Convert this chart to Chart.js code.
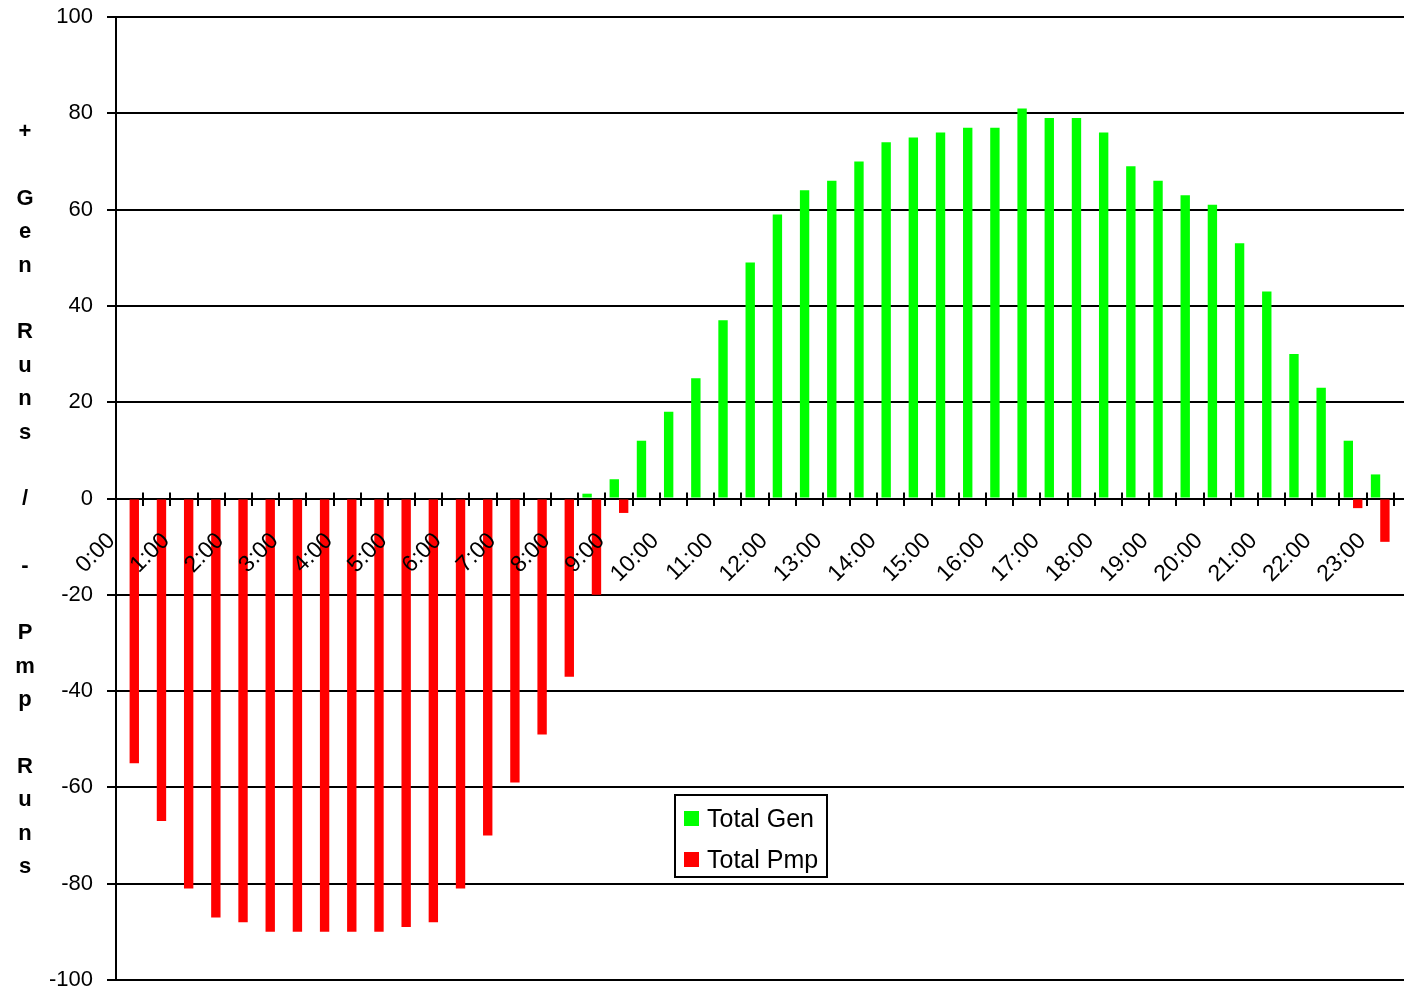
<!DOCTYPE html>
<html>
<head>
<meta charset="utf-8">
<script src="https://cdn.jsdelivr.net/npm/chart.js@4.4.0/dist/chart.umd.min.js"></script>
<style>
  html, body { margin: 0; padding: 0; background: #fff; overflow: hidden; }
  #wrap { position: relative; width: 1404px; height: 991px; overflow: hidden; }
  #chart { position: absolute; left: 0; top: 0; }
  #ytitle { position: absolute; left: 0; top: 114px; width: 50px; text-align: center; white-space: pre;
    font: bold 22px "Liberation Sans", Arial, sans-serif; line-height: 33.4px; color: #000; }
  #legend { position: absolute; left: 674px; top: 794px; width: 150px; height: 80px; border: 2px solid #000;
    background: #fff; font: 25px "Liberation Sans", Arial, sans-serif; color: #000; }
  #legend .item { display: flex; align-items: center; height: 41px; padding-left: 8px; position: relative; top: 2px; }
  #legend .swatch { width: 15px; height: 15px; margin-right: 8px; }
</style>
</head>
<body>
<div id="wrap">
  <canvas id="chart" width="1421" height="1010"></canvas>
  <div id="ytitle"></div>
  <div id="legend"></div>
</div>
<script>
// half-hourly categories, only the full hours get a label
const times = [
  '0:00', '0:30', '1:00', '1:30', '2:00', '2:30', '3:00', '3:30', '4:00', '4:30', '5:00', '5:30',
  '6:00', '6:30', '7:00', '7:30', '8:00', '8:30', '9:00', '9:30', '10:00', '10:30', '11:00', '11:30',
  '12:00', '12:30', '13:00', '13:30', '14:00', '14:30', '15:00', '15:30', '16:00', '16:30', '17:00', '17:30',
  '18:00', '18:30', '19:00', '19:30', '20:00', '20:30', '21:00', '21:30', '22:00', '22:30', '23:00', '23:30'
];

const totalGen = [
  0, 0, 0, 0, 0, 0, 0, 0, 0, 0, 0, 0, 0, 0, 0, 0, 0, 1, 4, 12, 18, 25, 37, 49,
  59, 64, 66, 70, 74, 75, 76, 77, 77, 81, 79, 79, 76, 69, 66, 63, 61, 53, 43, 30, 23, 12, 5, 0
];

const totalPmp = [
  -55, -67, -81, -87, -88, -90, -90, -90, -90, -90, -89, -88, -81, -70, -59, -49, -37, -20, -3, 0, 0, 0, 0, 0,
  0, 0, 0, 0, 0, 0, 0, 0, 0, 0, 0, 0, 0, 0, 0, 0, 0, 0, 0, 0, 0, -2, -9, 0
];

const seriesNames = ['Total Gen', 'Total Pmp'];
const seriesColors = ['#00ff00', '#ff0000'];
const yTitle = '+ Gen Runs / - Pmp Runs';

const font = { family: '"Liberation Sans", Arial, sans-serif', size: 22 };

// tick marks above the zero line (chart.js only draws them below)
const upperTicks = {
  id: 'upperTicks',
  afterDraw(chart) {
    const xs = chart.scales.x;
    const y0 = chart.scales.y.getPixelForValue(0);
    const half = (xs.getPixelForValue(1) - xs.getPixelForValue(0)) / 2;
    const c = chart.ctx;
    c.save();
    c.strokeStyle = '#000';
    c.lineWidth = 2;
    c.beginPath();
    for (let i = 1; i <= times.length; i++) {
      const x = Math.round(xs.getPixelForValue(i) - half);
      c.moveTo(x, y0 - 6);
      c.lineTo(x, y0);
    }
    c.stroke();
    c.restore();
  }
};

// keep the plot area fixed: no extra room for label overhang
const noPadding = (s) => {
  s.paddingTop = 0;
  s.paddingBottom = 0;
  s.paddingLeft = 0;
  s.paddingRight = 0;
};

const chart = new Chart(document.getElementById('chart').getContext('2d'), {
  type: 'bar',
  data: {
    labels: times,
    datasets: [totalGen, totalPmp].map((data, i) => ({
      label: seriesNames[i],
      data,
      backgroundColor: seriesColors[i],
      categoryPercentage: 0.69,
      barPercentage: 1
    }))
  },
  options: {
    responsive: false,
    animation: false,
    layout: { padding: { top: 17, bottom: 30, left: 0, right: 0 } },
    plugins: { legend: { display: false }, tooltip: { enabled: false } },
    scales: {
      x: {
        position: { y: 0 },
        grid: { drawOnChartArea: false, tickLength: 6, color: '#000', lineWidth: 2, offset: true },
        border: { color: '#000', width: 2 },
        ticks: {
          z: 1,
          autoSkip: false,
          minRotation: 45,
          maxRotation: 45,
          color: '#000',
          font: { ...font, size: 23 },
          padding: 23,
          labelOffset: -18,
          callback: (v, i) => (i % 2 === 0 ? times[i] : '')
        },
        afterFit: noPadding
      },
      y: {
        min: -100,
        max: 100,
        ticks: { stepSize: 20, color: '#000', font, padding: 14 },
        grid: { color: '#000', lineWidth: 2, tickLength: 9 },
        border: { color: '#000', width: 2 },
        afterFit: (s) => { noPadding(s); s.width = 116; }
      }
    }
  },
  plugins: [upperTicks]
});

document.getElementById('ytitle').textContent = yTitle.split('').join('\n');

document.getElementById('legend').innerHTML = chart.data.datasets.map(ds =>
  `<div class="item"><span class="swatch" style="background:${ds.backgroundColor}"></span>${ds.label}</div>`
).join('');
</script>
</body>
</html>
